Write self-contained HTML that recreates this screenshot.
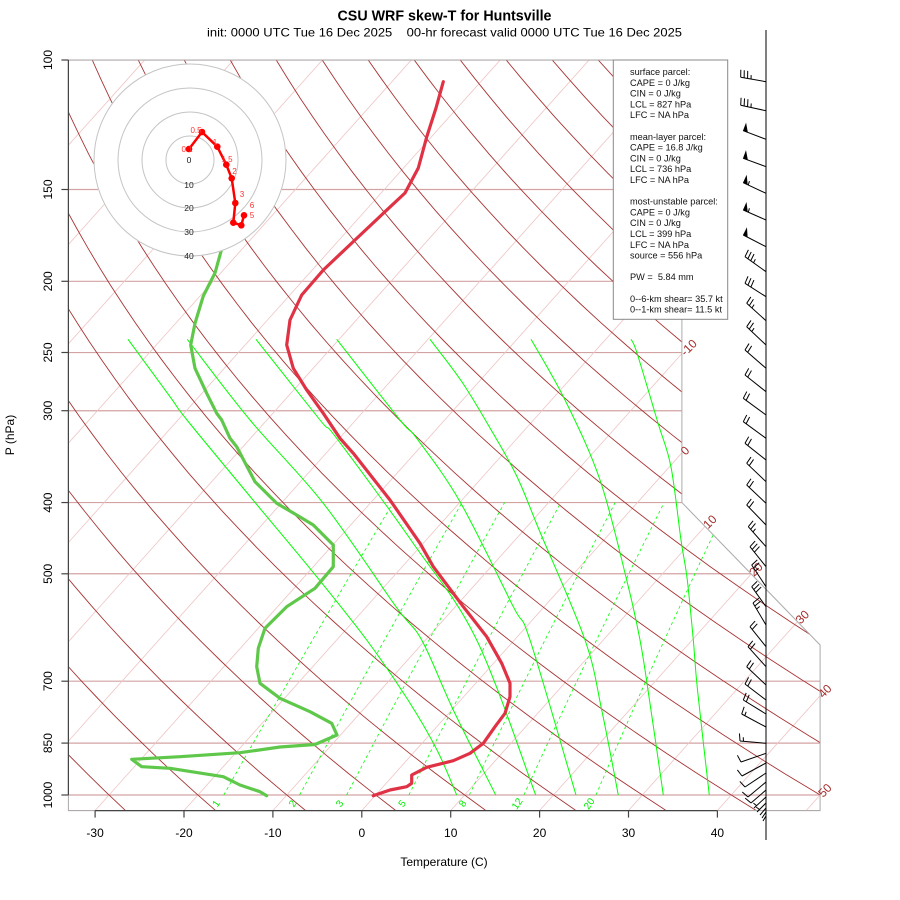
<!DOCTYPE html>
<html><head><meta charset="utf-8">
<style>
html,body{margin:0;padding:0;background:#fff;width:900px;height:900px;overflow:hidden}
svg{display:block}
text{font-family:"Liberation Sans",Arial,sans-serif}
.pre text{white-space:pre}
</style></head><body>
<svg id="s" width="900" height="900" viewBox="0 0 900 900" xmlns="http://www.w3.org/2000/svg">
<defs>
<clipPath id="cp"><polygon points="68.4,60 68.4,810.6 820.1,810.6 820.1,645 681.9,502.55 681.9,60"/></clipPath>
</defs>
<rect x="0" y="0" width="900" height="900" fill="#fff"/>
<g id="grid" clip-path="url(#cp)"></g>
<!-- box outline -->
<polygon points="68.4,60 68.4,810.6 820.1,810.6 820.1,645 681.9,502.55 681.9,60" fill="none" stroke="#aaaaaa" stroke-width="1"/>

<!-- isotherm labels -->
<g fill="#a52a2a" font-size="12">
<text transform="translate(682.5,353.6) rotate(-45)" dy="0.35em">-10</text>
<text transform="translate(682.5,452.9) rotate(-45)" dy="0.35em">0</text>
<text transform="translate(705,526.4) rotate(-45)" dy="0.35em">10</text>
<text transform="translate(751.2,574) rotate(-45)" dy="0.35em">20</text>
<text transform="translate(797.5,621.6) rotate(-45)" dy="0.35em">30</text>
<text transform="translate(820.1,695.7) rotate(-45)" dy="0.35em">40</text>
<text transform="translate(820.1,795) rotate(-45)" dy="0.35em">50</text>
</g>
<!-- mixing ratio labels -->
<g fill="#00ee00" font-size="10" text-anchor="middle">
<text transform="translate(216,803.5) rotate(-55)" dy="0.35em">1</text>
<text transform="translate(292.5,803.5) rotate(-55)" dy="0.35em">2</text>
<text transform="translate(339.5,803.5) rotate(-55)" dy="0.35em">3</text>
<text transform="translate(402,803.5) rotate(-55)" dy="0.35em">5</text>
<text transform="translate(462.5,803.5) rotate(-55)" dy="0.35em">8</text>
<text transform="translate(517,803.5) rotate(-55)" dy="0.35em">12</text>
<text transform="translate(589,803.5) rotate(-55)" dy="0.35em">20</text>
</g>

<!-- left axis -->
<g stroke="#444" stroke-width="1.2">
<line x1="68.4" y1="60" x2="68.4" y2="795"/>
<line x1="61.4" y1="60" x2="68.4" y2="60"/>
<line x1="61.4" y1="189.5" x2="68.4" y2="189.5"/>
<line x1="61.4" y1="281.3" x2="68.4" y2="281.3"/>
<line x1="61.4" y1="352.5" x2="68.4" y2="352.5"/>
<line x1="61.4" y1="410.7" x2="68.4" y2="410.7"/>
<line x1="61.4" y1="502.55" x2="68.4" y2="502.55"/>
<line x1="61.4" y1="573.8" x2="68.4" y2="573.8"/>
<line x1="61.4" y1="681.2" x2="68.4" y2="681.2"/>
<line x1="61.4" y1="743.1" x2="68.4" y2="743.1"/>
<line x1="61.4" y1="795" x2="68.4" y2="795"/>
</g>
<g font-size="12" fill="#000" text-anchor="middle">
<text transform="translate(52,60) rotate(-90)">100</text>
<text transform="translate(52,189.5) rotate(-90)">150</text>
<text transform="translate(52,281.3) rotate(-90)">200</text>
<text transform="translate(52,352.5) rotate(-90)">250</text>
<text transform="translate(52,410.7) rotate(-90)">300</text>
<text transform="translate(52,502.55) rotate(-90)">400</text>
<text transform="translate(52,573.8) rotate(-90)">500</text>
<text transform="translate(52,681.2) rotate(-90)">700</text>
<text transform="translate(52,743.1) rotate(-90)">850</text>
<text transform="translate(52,795) rotate(-90)">1000</text>
<text transform="translate(13.8,435) rotate(-90)">P (hPa)</text>
</g>

<!-- bottom axis -->
<g stroke="#444" stroke-width="1.2">
<line x1="95.1" y1="810.6" x2="717.4" y2="810.6"/>
<line x1="95.1" y1="810.6" x2="95.1" y2="817.6"/>
<line x1="184" y1="810.6" x2="184" y2="817.6"/>
<line x1="272.9" y1="810.6" x2="272.9" y2="817.6"/>
<line x1="361.8" y1="810.6" x2="361.8" y2="817.6"/>
<line x1="450.7" y1="810.6" x2="450.7" y2="817.6"/>
<line x1="539.6" y1="810.6" x2="539.6" y2="817.6"/>
<line x1="628.5" y1="810.6" x2="628.5" y2="817.6"/>
<line x1="717.4" y1="810.6" x2="717.4" y2="817.6"/>
</g>
<g font-size="12" fill="#000" text-anchor="middle">
<text x="95.1" y="837">-30</text>
<text x="184" y="837">-20</text>
<text x="272.9" y="837">-10</text>
<text x="361.8" y="837">0</text>
<text x="450.7" y="837">10</text>
<text x="539.6" y="837">20</text>
<text x="628.5" y="837">30</text>
<text x="717.4" y="837">40</text>
<text x="444" y="866">Temperature (C)</text>
</g>

<!-- temperature trace -->
<polyline fill="none" stroke="#e03245" stroke-width="3.2" stroke-linejoin="round" stroke-linecap="round" points="443.3,81.7 436,108 426.7,137 418.3,168 405,193 385,211.7 355,240 323.3,270 301.7,295 290,320 286.7,345 293.3,368.3 306.7,390 323.3,413.3 340,438.3 353.3,453.3 390,500 420,543.3 433.3,566.7 463.3,606.7 486.7,636.7 501.7,663.3 510,683.3 510,696.7 505,713.3 495,726.7 483.3,743.3 470,753.3 453.3,760.7 426.7,767.3 411.7,775 411.7,783.3 406.7,786.7 390,790 373.3,795.7"/>
<!-- dewpoint trace -->
<polyline fill="none" stroke="#5fc84b" stroke-width="3.2" stroke-linejoin="round" stroke-linecap="round" points="222.5,246 215,273 203.3,296 195,323.3 190.7,345 195,368.3 206.7,393.3 216.7,413.3 221.7,420 230,438.3 236.7,446.7 255,481.7 276.7,503.3 296.7,515 313.3,525 333.3,545 333.3,566.7 315,588.3 286.7,606.7 265,628.3 258.3,648.3 256.7,666.7 260,683.3 280,698.3 310,711.7 331.7,723.3 337,735 315,744.5 280,747 240,752.7 180,756.7 131.7,759.3 141.7,766.7 170,768.3 223.3,776.7 240,785 260,791.7 266.7,795.7"/>

<!-- hodograph -->
<circle cx="190" cy="160" r="96.5" fill="#fff" stroke="none"/>
<g fill="none" stroke="#c4c4c4" stroke-width="1">
<circle cx="190" cy="160" r="24"/>
<circle cx="190" cy="160" r="48"/>
<circle cx="190" cy="160" r="72"/>
<circle cx="190" cy="160" r="96"/>
</g>
<g font-size="8.5" fill="#222" text-anchor="middle">
<text x="189" y="163">0</text>
<text x="189" y="188">10</text>
<text x="189" y="211">20</text>
<text x="189" y="235">30</text>
<text x="189" y="259">40</text>
</g>
<polyline fill="none" stroke="#ff0000" stroke-width="2.5" stroke-linejoin="round" points="189,149 202,132 217.3,146.7 226.3,164.7 231.7,178.3 235.3,203 233.3,222.7 241.3,225.3 244,215.3"/>
<g fill="#ff0000">
<circle cx="189" cy="149" r="3.3"/><circle cx="202" cy="132" r="3.3"/><circle cx="217.3" cy="146.7" r="3.3"/>
<circle cx="226.3" cy="164.7" r="3.3"/><circle cx="231.7" cy="178.3" r="3.3"/><circle cx="235.3" cy="203" r="3.3"/>
<circle cx="233.3" cy="222.7" r="3.3"/><circle cx="241.3" cy="225.3" r="3.3"/><circle cx="244" cy="215.3" r="3.3"/>
</g>
<g font-size="8" fill="#ff3333" text-anchor="middle">
<text x="187" y="152">0.1</text>
<text x="196" y="133">0.5</text>
<text x="215" y="145">1</text>
<text x="227" y="162">1.5</text>
<text x="234.5" y="174">2</text>
<text x="242" y="197">3</text>
<text x="252" y="208">6</text>
<text x="252" y="218">5</text>
</g>

<!-- legend box -->
<rect x="613.3" y="60" width="114.4" height="259.3" fill="#fff" stroke="#888" stroke-width="1"/>
<g class="pre" font-size="9.2" fill="#111">
<text x="630" y="75">surface parcel:</text>
<text x="630" y="85.8">CAPE = 0 J/kg</text>
<text x="630" y="96.6">CIN = 0 J/kg</text>
<text x="630" y="107.4">LCL = 827 hPa</text>
<text x="630" y="118.2">LFC = NA hPa</text>
<text x="630" y="139.8">mean-layer parcel:</text>
<text x="630" y="150.6">CAPE = 16.8 J/kg</text>
<text x="630" y="161.4">CIN = 0 J/kg</text>
<text x="630" y="172.2">LCL = 736 hPa</text>
<text x="630" y="183">LFC = NA hPa</text>
<text x="630" y="204.6">most-unstable parcel:</text>
<text x="630" y="215.4">CAPE = 0 J/kg</text>
<text x="630" y="226.2">CIN = 0 J/kg</text>
<text x="630" y="237">LCL = 399 hPa</text>
<text x="630" y="247.8">LFC = NA hPa</text>
<text x="630" y="258.6">source = 556 hPa</text>
<text x="630" y="280.2">PW =  5.84 mm</text>
<text x="630" y="301.8">0--6-km shear= 35.7 kt</text>
<text x="630" y="312.6">0--1-km shear= 11.5 kt</text>
</g>

<!-- barbs -->
<line x1="766" y1="30" x2="766" y2="840" stroke="#000" stroke-width="1"/>
<g id="barbs" stroke="#000" stroke-width="1" fill="#000"></g>

<!-- titles -->
<text x="444.5" y="20.5" text-anchor="middle" font-size="14.4" font-weight="bold" textLength="214" lengthAdjust="spacingAndGlyphs">CSU WRF skew-T for Huntsville</text>
<text x="444.5" y="36.5" text-anchor="middle" font-size="12" style="white-space:pre" textLength="475" lengthAdjust="spacingAndGlyphs">init: 0000 UTC Tue 16 Dec 2025    00-hr forecast valid 0000 UTC Tue 16 Dec 2025</text>
</svg>
<script>
(function(){
const NS="http://www.w3.org/2000/svg";
const X0=375.7,SX=16.46,Y0=795,SY=16.68;
const ty=p=>132.182-44.061*Math.log10(p);
const pt=(T,p)=>{const y=ty(p);return [X0+SX*(0.54*T+0.90692*y),Y0-SY*y];};
function el(tag,attrs,parent){const e=document.createElementNS(NS,tag);for(const k in attrs)e.setAttribute(k,attrs[k]);parent.appendChild(e);return e;}
const grid=document.getElementById('grid');
const pres=[1050,1000,850,700,500,400,300,250,200,150,100];
const xr={1050:820.1,1000:820.1,850:820.1,700:820.1,500:751.4};
for(const p of pres){const y=Y0-SY*ty(p);el('line',{x1:68.4,y1:y,x2:(xr[p]||681.9),y2:y,stroke:'#d3a3a3','stroke-width':1.2},grid);}
for(let T=-100;T<=50;T+=10){const a=pt(T,1050),b=pt(T,100);el('line',{x1:a[0],y1:a[1],x2:b[0],y2:b[1],stroke:'#efc4c4','stroke-width':0.8},grid);}
for(let th=-60;th<=250;th+=10){let d='';for(let i=0;i<=40;i++){const p=1050*Math.pow(100/1050,i/40);const T=(th+273.15)*Math.pow(p/1000,0.286)-273.15;const q=pt(T,p);d+=(i?'L':'M')+q[0].toFixed(1)+' '+q[1].toFixed(1);}el('path',{d:d,fill:'none',stroke:'#a83434','stroke-width':0.9},grid);}
const moist=[
[[128,339.3],[170,396.7],[187,420],[253,500],[316.7,576.7],[366.7,640],[408,700],[437,750],[456.7,795]],
[[187.3,339.3],[250,420],[323.3,503.3],[396,606.7],[421.7,640],[453.3,710],[495.7,795]],
[[256,339.3],[320,420],[336.7,438.3],[413,543],[476.7,640],[535.7,795]],
[[336.7,339.3],[400,420],[416.7,438.3],[460,501.7],[513.3,606.7],[530,640],[576,795]],
[[430,339.3],[462,382],[490,428],[516.7,476],[540,532],[585,640],[601.7,710],[618.3,795]],
[[531,339.3],[565,400],[600,480],[626.7,580],[640,640],[648,690],[663.3,795]],
[[631,339.3],[637,353],[658,423],[671,467],[681,540],[687.3,580],[693.3,640],[697.5,690],[709.3,795]]
];
function cr(pts){let d='M'+pts[0][0]+' '+pts[0][1];for(let i=0;i<pts.length-1;i++){const p0=pts[Math.max(0,i-1)],p1=pts[i],p2=pts[i+1],p3=pts[Math.min(pts.length-1,i+2)];const c1=[p1[0]+(p2[0]-p0[0])/6,p1[1]+(p2[1]-p0[1])/6];const c2=[p2[0]-(p3[0]-p1[0])/6,p2[1]-(p3[1]-p1[1])/6];d+='C'+c1[0].toFixed(1)+' '+c1[1].toFixed(1)+' '+c2[0].toFixed(1)+' '+c2[1].toFixed(1)+' '+p2[0]+' '+p2[1];}return d;}
for(const m of moist){el('path',{d:cr(m),fill:'none',stroke:'#00ff00','stroke-width':1},grid);}
function tmr(w,p){const c1=0.0498646455,c2=2.4082965,c3=7.07475,c4=38.9114,c5=0.0915,c6=1.2035;const x=Math.log10(w*p/(622+w));return Math.pow(10,c1*x+c2)-c3+c4*Math.pow(Math.pow(10,c5*x)-c6,2)-273.15;}
for(const w of [1,2,3,5,8,12,20]){let d='';let i=0;for(let p=1000;p>=400;p-=10){const q=pt(tmr(w,p),p);d+=(i?'L':'M')+q[0].toFixed(1)+' '+q[1].toFixed(1);i++;}el('path',{d:d,fill:'none',stroke:'#00ff00','stroke-width':0.8,'stroke-dasharray':'3,3'},grid);}
const bg=document.getElementById('barbs');
const B=[
[81.7,740.7,77.3,0,3,1],[110.7,740.7,105.3,0,3,1],[139.3,743.3,130.7,1,0,0],[166.7,743.3,158.3,1,0,0],
[193.3,743.3,182.7,1,0,1],[220,743.3,210,1,0,1],[246.7,743.3,235,1,0,0],[271.7,745,256.7,0,3,1],
[296.7,745,283.3,0,3,0],[320.7,746.7,303.3,0,2,1],[345,746.7,326.7,0,2,1],[368.3,745,350,0,2,0],
[391.7,745,375,0,2,0],[415,743.3,398.3,0,2,0],[438.3,743.3,421.7,0,2,0],[460,745,443.3,0,2,0],
[481.7,746.7,463.3,0,2,0],[503.3,746.7,485,0,2,0],[525,746.7,505,0,2,0],[546.7,748.3,526.7,0,2,1],
[566.7,750,546.7,0,3,0],[586.7,751.7,565,0,2,1],[606.7,751.7,586.7,0,3,0],[625,753,603,0,2,1],
[646.7,750,626.7,0,2,0],[666.7,748,646.7,0,2,0],[685,746.7,666.7,0,2,0],[700,745,684,0,2,0],
[714,743.3,700,0,2,0],[727,741.7,714,0,1,1],[743.3,740,741,0,1,1],[753.3,741,762,0,1,0],
[763,742,776,0,1,0],[773,745,787,0,1,0],[782,748,797,0,1,0],[790,751,803,0,1,0],
[797,754,808,0,0,1],[803,757,812,0,0,1],[808,760,815,0,0,0],[812,762,818,0,0,0],[816,763,821,0,0,0]
];
for(const b of B){const bx=766,by=b[0],tx=b[1],tyy=b[2];const dx=tx-bx,dy=tyy-by,L=Math.hypot(dx,dy);const ux=dx/L,uy=dy/L;const fx=-uy,fy=ux;
el('line',{x1:bx,y1:by,x2:tx,y2:tyy},bg);
let pos=0;
for(let i=0;i<b[3];i++){const ax=tx-ux*pos,ay=tyy-uy*pos;const bx2=ax-ux*4.5,by2=ay-uy*4.5;const cx=ax+fx*7.5,cy=ay+fy*7.5;el('polygon',{points:ax+','+ay+' '+cx+','+cy+' '+bx2+','+by2,stroke:'#000','stroke-width':0.6},bg);pos+=5.5;}
for(let i=0;i<b[4];i++){const ax=tx-ux*pos,ay=tyy-uy*pos;el('line',{x1:ax,y1:ay,x2:ax+fx*7.5+ux*1.2,y2:ay+fy*7.5+uy*1.2},bg);pos+=3.5;}
if(b[5]){if(pos===0)pos=3.5;const ax=tx-ux*pos,ay=tyy-uy*pos;el('line',{x1:ax,y1:ay,x2:ax+fx*4+ux*0.6,y2:ay+fy*4+uy*0.6},bg);}
}
})();
</script>
</body></html>
